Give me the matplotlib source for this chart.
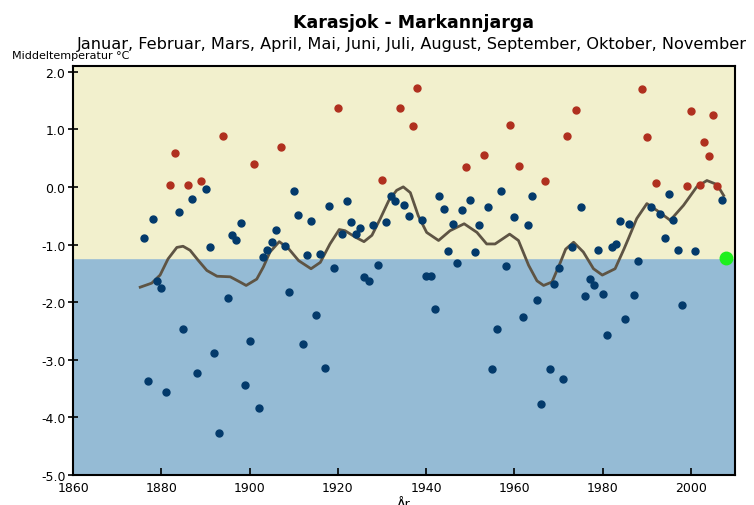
import matplotlib
matplotlib.use("Agg")
import matplotlib.pyplot as plt
import numpy as np

# middeltemperatur jan-nov per år
aar = np.arange(1876, 2008)
temp = [-0.89, -3.36, -0.56, -1.63, -1.75, -3.56, 0.04, 0.58, -0.44, -2.46,
        0.04, -0.21, -3.22, 0.10, -0.03, -1.05, -2.89, -4.27, 0.89, -1.92,
        -0.83, -0.92, -0.62, -3.44, -2.67, 0.40, -3.84, -1.21, -1.10, -0.95,
        -0.74, 0.69, -1.03, -1.83, -0.07, -0.48, -2.72, -1.18, -0.59, -2.22,
        -1.16, -3.14, -0.33, -1.40, 1.37, -0.82, -0.25, -0.61, -0.82, -0.71,
        -1.56, -1.64, -0.66, -1.36, 0.12, -0.61, -0.15, -0.25, 1.37, -0.32,
        -0.50, 1.06, 1.71, -0.58, -1.54, -1.54, -2.12, -0.16, -0.38, -1.11,
        -0.64, -1.32, -0.40, 0.34, -0.22, -1.13, -0.67, 0.55, -0.35, -3.16,
        -2.46, -0.07, -1.37, 1.07, -0.52, 0.37, -2.26, -0.67, -0.16, -1.97,
        -3.77, 0.10, -3.16, -1.69, -1.40, -3.33, 0.88, -1.05, 1.33, -0.35,
        -1.89, -1.60, -1.71, -1.10, -1.85, -2.57, -1.05, -0.99, -0.59, -2.30,
        -0.64, -1.87, -1.28, 1.69, 0.86, -0.35, 0.07, -0.47, -0.88, -0.12,
        -0.57, -1.10, -2.05, 0.02, 1.32, -1.11, 0.04, 0.78, 0.54, 1.24,
        0.02, -0.22]

# glattet kurve
kurve_aar = [1875.2, 1877.8, 1879.7, 1881.5, 1883.5, 1884.9, 1886.5, 1888.4,
             1890.3, 1892.6, 1895.6, 1897.8, 1899.2, 1901.6, 1903.1, 1904.6,
             1906.7, 1908.8, 1911.1, 1913.9, 1916.0, 1918.2, 1920.3, 1921.6,
             1923.9, 1925.9, 1927.7, 1929.6, 1931.5, 1933.3, 1934.8, 1936.4,
             1938.2, 1940.1, 1942.8, 1945.4, 1948.6, 1951.5, 1953.7, 1955.6,
             1958.9, 1960.9, 1963.2, 1965.1, 1966.6, 1968.5, 1970.4, 1971.6,
             1973.4, 1975.6, 1977.9, 1979.9, 1982.8, 1984.8, 1985.8, 1987.7,
             1990.0, 1992.3, 1995.3, 1998.3, 2001.3, 2003.6, 2005.9, 2007.4]
kurve = [-1.74, -1.67, -1.53, -1.25, -1.05, -1.03, -1.10, -1.28,
         -1.45, -1.55, -1.56, -1.65, -1.71, -1.60, -1.39, -1.13,
         -0.95, -1.07, -1.28, -1.42, -1.31, -0.99, -0.74, -0.76,
         -0.87, -0.95, -0.84, -0.55, -0.24, -0.06, 0.0, -0.10,
         -0.50, -0.79, -0.93, -0.76, -0.64, -0.79, -0.99, -0.99,
         -0.82, -0.93, -1.36, -1.63, -1.71, -1.65, -1.31, -1.08,
         -0.96, -1.13, -1.42, -1.53, -1.42, -1.08, -0.90, -0.55,
         -0.29, -0.41, -0.58, -0.32, 0.0, 0.11, 0.04, -0.15]

normal = -1.23
normal_aar = 2008

aar = np.array(aar)
temp = np.array(temp)
varm = temp > 0

fig = plt.figure(figsize=(7.54, 5.06), dpi=100)
ax = fig.add_axes([0.097, 0.059, 0.878, 0.809])

ax.axhspan(-5.0, normal, color='#95bbd5', zorder=0)
ax.axhspan(normal, 2.1, color='#f2f0cd', zorder=0)

ax.plot(kurve_aar, kurve, color='#5e5444', lw=2, zorder=2)
ax.plot(aar[~varm], temp[~varm], 'o', color='#033a6b', ms=5, zorder=3)
ax.plot(aar[varm], temp[varm], 'o', color='#b0301f', ms=5, zorder=3)
ax.plot(normal_aar, normal, 'o', color='#1ef01e', ms=9, zorder=4)

ax.set_xlim(1860, 2010)
ax.set_ylim(-5.0, 2.1)
ax.set_xticks(range(1860, 2001, 20))
ax.set_yticks(np.arange(-5, 2.5, 1))
ax.yaxis.set_major_formatter(matplotlib.ticker.FormatStrFormatter('%.1f'))
ax.tick_params(axis='x', direction='in', length=5, width=1.2, labelsize=9, pad=4)
ax.tick_params(axis='y', direction='inout', length=7, width=1.2, labelsize=9, pad=2)
for s in ax.spines.values():
    s.set_linewidth(1.5)

fig.text(0.549, 0.955, 'Karasjok - Markannjarga', ha='center', va='center',
         fontsize=12.5, fontweight='bold')
fig.text(0.102, 0.913, 'Januar, Februar, Mars, April, Mai, Juni, Juli, August, '
         'September, Oktober, November', ha='left', va='center', fontsize=11.6)
fig.text(0.016, 0.889, 'Middeltemperatur °C', ha='left', va='center', fontsize=8)
fig.text(0.536, 0.002, 'År', ha='center', va='center', fontsize=9)

fig.savefig('out.png', dpi=100)
